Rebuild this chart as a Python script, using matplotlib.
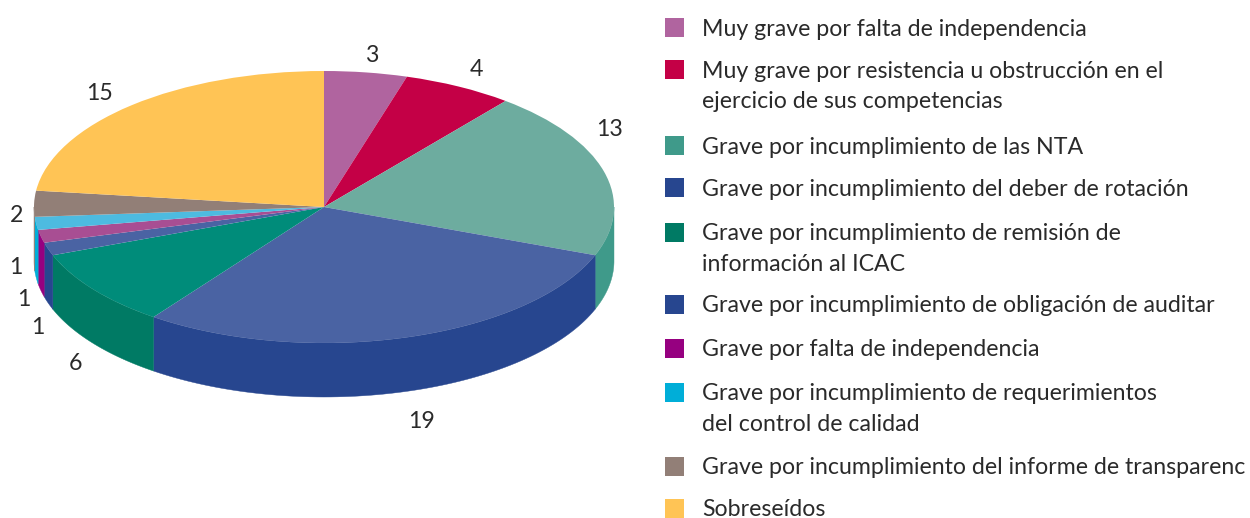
import numpy as np
import matplotlib
matplotlib.use("Agg")
import matplotlib.pyplot as plt
from matplotlib.patches import Rectangle

categories = [
    "Muy grave por falta de independencia",
    "Muy grave por resistencia u obstrucción en el\nejercicio de sus competencias",
    "Grave por incumplimiento de las NTA",
    "Grave por incumplimiento del deber de rotación",
    "Grave por incumplimiento de remisión de\ninformación al ICAC",
    "Grave por incumplimiento de obligación de auditar",
    "Grave por falta de independencia",
    "Grave por incumplimiento de requerimientos\ndel control de calidad",
    "Grave por incumplimiento del informe de transparenc",
    "Sobreseídos",
]
values = [3, 4, 13, 19, 6, 1, 1, 1, 2, 15]
top_colors = ["#b0649f", "#c40046", "#6dac9f", "#4a63a3", "#008c7a",
              "#4a63a3", "#a84e93", "#4dbbe0", "#927f77", "#ffc455"]
side_colors = ["#b0649f", "#c40046", "#3f9a8a", "#27468f", "#007a64",
               "#27468f", "#960080", "#00aed8", "#927f77", "#ffc455"]

W, H = 1250, 518
CX, CY, RX, RY, DEPTH = 324, 207, 290, 136, 54
FONT = {"family": "Lato", "weight": "normal", "color": "#2a2a2a"}
FS = 16.7

fig = plt.figure(figsize=(W / 100, H / 100), dpi=100, facecolor="white")
ax = fig.add_axes([0, 0, 1, 1])
ax.pie(values, colors=top_colors, startangle=90, counterclock=False, radius=1,
       wedgeprops={"linewidth": 0.4, "edgecolor": "none"}, normalize=True)
ax.set_aspect("auto")
ax.set_xlim(-CX / RX, (W - CX) / RX)
ax.set_ylim(-(H - CY) / RY, CY / RY)

# side wall of the disc, front half only
d = DEPTH / RY
edges = np.concatenate([[0], np.cumsum(values)]) / sum(values) * 2 * np.pi
for a0, a1, c in zip(edges[:-1], edges[1:], side_colors):
    lo, hi = max(a0, np.pi / 2), min(a1, 3 * np.pi / 2)
    if hi <= lo:
        continue
    t = np.linspace(lo, hi, 80)
    x, y = np.sin(t), np.cos(t)
    ax.fill(np.r_[x, x[::-1]], np.r_[y, y[::-1] - d], color=c, lw=0.3, zorder=0.5)

# overlay in pixel units for labels and key
ov = fig.add_axes([0, 0, 1, 1], facecolor="none")
ov.set_xlim(0, W)
ov.set_ylim(H, 0)
ov.axis("off")

label_xy = [(372, 55), (476, 70), (610, 129), (422, 421), (76, 364),
            (38, 328), (24, 299), (16, 267), (17, 215), (99, 94)]
for v, (x, y) in zip(values, label_xy):
    ov.text(x, y, str(v), ha="center", va="center", fontsize=FS, **FONT)

key_y = [27, 69, 145, 187, 232, 304, 348, 392, 466, 508]
for name, c, y in zip(categories, side_colors, key_y):
    ov.add_patch(Rectangle((665, y - 9.5), 19, 19, facecolor=c, edgecolor="none"))
    for i, line in enumerate(name.split("\n")):
        ov.text(702, y + i * 30.5, line, ha="left", va="center_baseline",
                fontsize=FS, clip_on=False, **FONT)

fig.savefig("out.png", dpi=100)
